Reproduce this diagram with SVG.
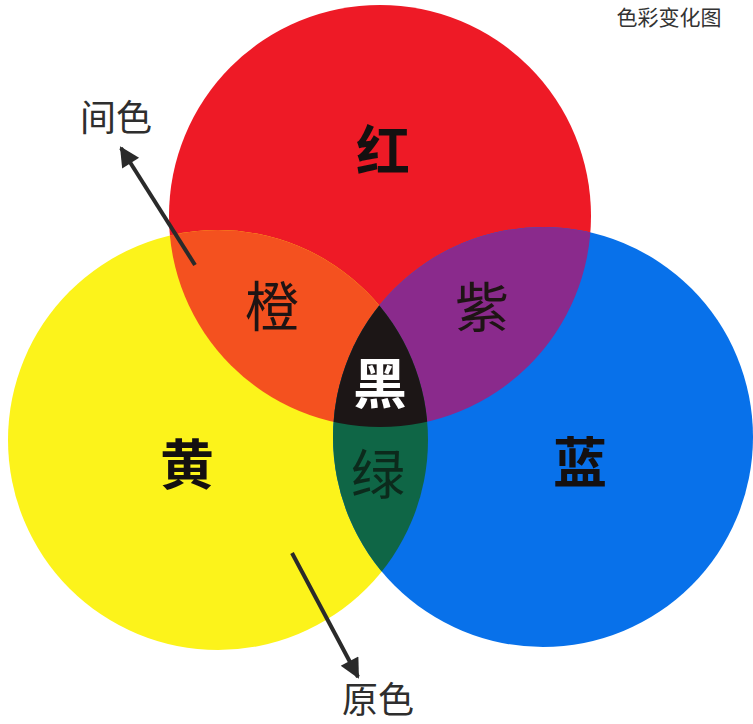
<svg xmlns="http://www.w3.org/2000/svg" width="753" height="724" viewBox="0 0 753 724">
<style>
.cjk{font-family:"Noto Sans CJK SC","Noto Sans CJK JP",sans-serif;text-anchor:middle}
.big{font-size:54px;font-weight:bold;fill:#141010}
.mix{font-size:54px;font-weight:normal;fill:#1e1414}
.note{font-size:36px;font-weight:normal;fill:#2e2e2e}
.arrow{stroke:#2a2a2a;stroke-width:4;fill:none;marker-end:url(#ah)}
</style>
<defs>
<clipPath id="clipR"><circle cx="380" cy="216" r="211"/></clipPath>
<clipPath id="clipY"><circle cx="218" cy="440" r="210"/></clipPath>
<marker id="ah" viewBox="0 0 10 10" refX="9" refY="5" markerUnits="userSpaceOnUse" markerWidth="26" markerHeight="20" orient="auto">
<path d="M0,0 L10,5 L0,10 z" fill="#2a2a2a"/>
</marker>
</defs>
<rect width="753" height="724" fill="#ffffff"/>
<g id="title"><text class="cjk" x="669" y="25" style="font-size:21px;fill:#333">色彩变化图</text></g>
<g id="red"><circle cx="380" cy="216" r="211" fill="#ee1a26"/><text class="cjk big" x="383" y="171">红</text></g>
<g id="yellow"><circle cx="218" cy="440" r="210" fill="#fcf31b"/><text class="cjk big" x="187" y="485">黄</text></g>
<g id="blue"><circle cx="543" cy="437" r="210" fill="#0871ea"/><text class="cjk big" x="580" y="483">蓝</text></g>
<g id="orange"><circle cx="218" cy="440" r="210" fill="#f4511f" clip-path="url(#clipR)"/><text class="cjk mix" x="272" y="327">橙</text></g>
<g id="purple"><circle cx="543" cy="437" r="210" fill="#8a2a8c" clip-path="url(#clipR)"/><text class="cjk mix" x="482" y="328">紫</text></g>
<g id="green"><circle cx="543" cy="437" r="210" fill="#0f6646" clip-path="url(#clipY)"/><text class="cjk mix" x="378" y="495" style="fill:#0c2a1c">绿</text></g>
<g id="black"><g clip-path="url(#clipY)"><circle cx="543" cy="437" r="210" fill="#1c1616" clip-path="url(#clipR)"/></g><text class="cjk big" x="380" y="404" style="fill:#ffffff">黑</text></g>
<g id="label-secondary"><text class="cjk note" x="116" y="131">间色</text></g>
<g id="label-primary"><text class="cjk note" x="378" y="713">原色</text></g>
<g id="connectors">
<line class="arrow" x1="195" y1="265" x2="121" y2="148"/>
<line class="arrow" x1="292" y1="553" x2="358" y2="677"/>
</g>
</svg>
